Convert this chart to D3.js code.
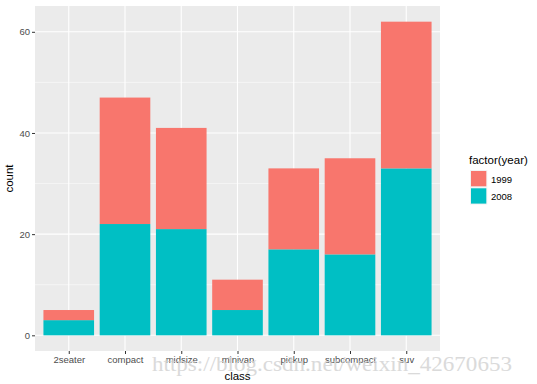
<!DOCTYPE html>
<html><head><meta charset="utf-8">
<script src="https://cdn.jsdelivr.net/npm/d3@7"></script>
<style>body{margin:0;background:#fff}svg{display:block}</style>
</head><body>
<svg id="c" width="537" height="384"></svg>
<script>
const categories = ["2seater","compact","midsize","minivan","pickup","subcompact","suv"];
const years = ["1999","2008"];
const count1999 = [2,25,20,6,16,19,29];
const count2008 = [3,22,21,5,17,16,33];
const yTicks = [0,20,40,60];
const colors = ["#F8766D","#00BFC4"];

const svg = d3.select("#c");
const L = 35, R = 440, T = 6, B = 351;
const x = d3.scaleLinear().domain([0.4, categories.length + 0.6]).range([L, R]);
const y = d3.scaleLinear().domain([-3.1, 65.1]).range([B, T]);
const FF = "Liberation Sans, Arial, sans-serif";

svg.append("rect").attr("x", L).attr("y", T).attr("width", R-L).attr("height", B-T).attr("fill", "#EBEBEB");
const minor = [10,30,50];
svg.selectAll(".ming").data(minor).enter().append("line")
  .attr("x1", L).attr("x2", R).attr("y1", d=>y(d)).attr("y2", d=>y(d))
  .attr("stroke", "#fff").attr("stroke-width", 0.5);
svg.selectAll(".majg").data(yTicks).enter().append("line")
  .attr("x1", L).attr("x2", R).attr("y1", d=>y(d)).attr("y2", d=>y(d))
  .attr("stroke", "#fff").attr("stroke-width", 1.1);
svg.selectAll(".xg").data(categories).enter().append("line")
  .attr("x1", (d,i)=>x(i+1)).attr("x2", (d,i)=>x(i+1)).attr("y1", T).attr("y2", B)
  .attr("stroke", "#fff").attr("stroke-width", 1.1);

const bw = (x(1.45) - x(0.55));
const data = categories.map((c,i)=>({c, i, a: count2008[i], b: count1999[i]}));
svg.selectAll(".b2008").data(data).enter().append("rect")
  .attr("x", d=>x(d.i+1)-bw/2).attr("width", bw)
  .attr("y", d=>y(d.a)).attr("height", d=>y(0)-y(d.a)).attr("fill", colors[1]);
svg.selectAll(".b1999").data(data).enter().append("rect")
  .attr("x", d=>x(d.i+1)-bw/2).attr("width", bw)
  .attr("y", d=>y(d.a+d.b)).attr("height", d=>y(d.a)-y(d.a+d.b)).attr("fill", colors[0]);

const xAxis = d3.axisBottom(d3.scalePoint().domain(categories).range([x(1), x(categories.length)]))
  .tickSize(3).tickPadding(2);
const gx = svg.append("g").attr("transform", `translate(0,${B})`).call(xAxis);
const yAxis = d3.axisLeft(y).tickValues(yTicks).tickSize(3).tickPadding(2);
const gy = svg.append("g").attr("transform", `translate(${L},0)`).call(yAxis);
[gx,gy].forEach(g=>{
  g.select(".domain").remove();
  g.selectAll(".tick line").attr("stroke", "#333");
  g.selectAll(".tick text").attr("fill", "#4D4D4D").style("font-family",FF).style("font-size","9.5px");
});

// watermark (part of the reference image)
svg.append("text").attr("x", 152).attr("y", 371).text("https://blog.csdn.net/weixin_42670653")
  .attr("textLength", 360).attr("lengthAdjust","spacingAndGlyphs")
  .attr("fill", "#d4d4d4").style("font-family","Liberation Serif, serif").style("font-size","21px").attr("opacity",0.85);

svg.append("text").attr("x", (L+R)/2).attr("y", 380).attr("text-anchor","middle")
  .text("class").style("font-family",FF).style("font-size","11.5px");
svg.append("text").attr("transform", `translate(13,${(T+B)/2}) rotate(-90)`).attr("text-anchor","middle")
  .text("count").style("font-family",FF).style("font-size","11.5px");

const lg = svg.append("g");
lg.append("text").attr("x", 469).attr("y", 164).text("factor(year)")
  .style("font-family",FF).style("font-size","11.5px");
years.forEach((yr,i)=>{
  lg.append("rect").attr("x", 470).attr("y", 170+i*17.3).attr("width", 17.3).attr("height", 17.3).attr("fill", "#F2F2F2");
  lg.append("rect").attr("x", 471).attr("y", 171+i*17.3).attr("width", 15.3).attr("height", 15.3).attr("fill", colors[i]);
  lg.append("text").attr("x", 491).attr("y", 182.5+i*17.3).text(yr)
    .style("font-family",FF).style("font-size","9.5px");
});
</script>
</body></html>
